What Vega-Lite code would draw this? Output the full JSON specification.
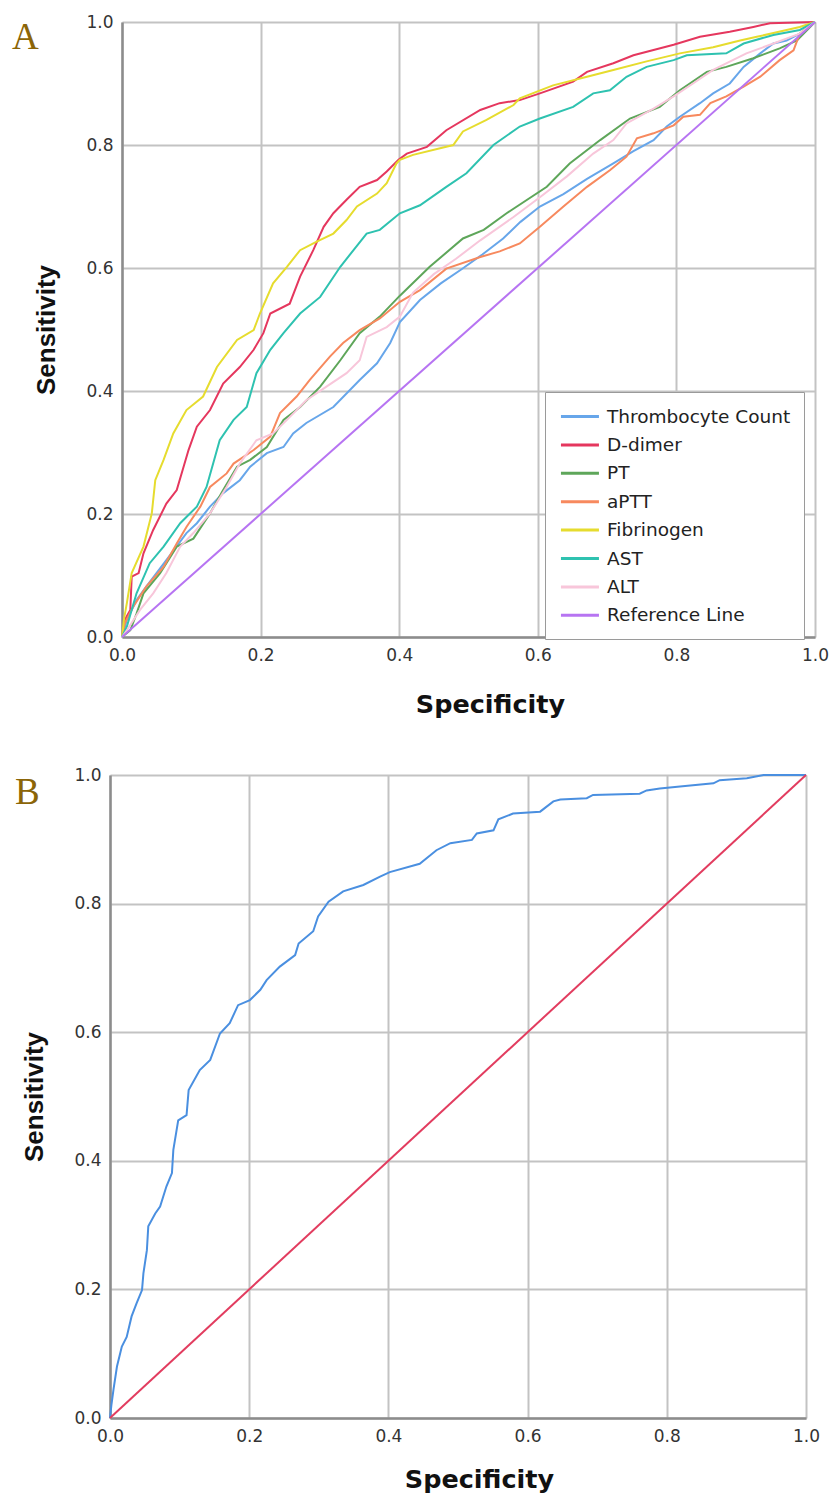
{
  "$schema": "https://vega.github.io/schema/vega-lite/v6.json",
  "background": "white",
  "padding": {"left": 12, "top": 13, "right": 0, "bottom": 0},
  "autosize": {"type": "pad"},
  "columns": 1,
  "spacing": 48,
  "resolve": {"scale": {"color": "independent", "x": "independent", "y": "independent"}},
  "config": {
    "view": {"stroke": null},
    "axis": {
      "grid": true, "gridColor": "#c3c3c3", "gridWidth": 2,
      "domainColor": "#8c8c8c", "domainWidth": 2.5,
      "ticks": false, "labelFlush": false, "labelOverlap": false,
      "labelFont": "DejaVu Sans", "labelFontSize": 17, "labelColor": "#333333",
      "titleColor": "#111111", "titleFontWeight": "bold"
    },
    "axisX": {"labelPadding": 10, "titleFont": "DejaVu Sans", "titleFontSize": 25.5, "titlePadding": 29},
    "axisY": {"labelPadding": 9, "titleFont": "Liberation Sans", "titleFontSize": 26, "titlePadding": 26},
    "legend": {
      "symbolType": "M-0.9,0H3.1", "symbolSize": 361, "symbolStrokeWidth": 3,
      "labelFont": "DejaVu Sans", "labelFontSize": 18.5, "labelColor": "#222222", "labelLimit": 400,
      "labelOffset": 26.5, "rowPadding": 7.4, "padding": 13.5,
      "strokeColor": "#9a9a9a", "fillColor": "white"
    }
  },
  "datasets": {
    "rocA": [
      {"series": "Thrombocyte Count", "spec": 0, "sens": 0},
      {"series": "Thrombocyte Count", "spec": 0.007, "sens": 0.028},
      {"series": "Thrombocyte Count", "spec": 0.021, "sens": 0.06},
      {"series": "Thrombocyte Count", "spec": 0.035, "sens": 0.082},
      {"series": "Thrombocyte Count", "spec": 0.064, "sens": 0.125},
      {"series": "Thrombocyte Count", "spec": 0.093, "sens": 0.169},
      {"series": "Thrombocyte Count", "spec": 0.108, "sens": 0.185},
      {"series": "Thrombocyte Count", "spec": 0.127, "sens": 0.212},
      {"series": "Thrombocyte Count", "spec": 0.146, "sens": 0.234},
      {"series": "Thrombocyte Count", "spec": 0.17, "sens": 0.255},
      {"series": "Thrombocyte Count", "spec": 0.185, "sens": 0.277},
      {"series": "Thrombocyte Count", "spec": 0.209, "sens": 0.299},
      {"series": "Thrombocyte Count", "spec": 0.233, "sens": 0.309},
      {"series": "Thrombocyte Count", "spec": 0.247, "sens": 0.331},
      {"series": "Thrombocyte Count", "spec": 0.266, "sens": 0.348},
      {"series": "Thrombocyte Count", "spec": 0.305, "sens": 0.374},
      {"series": "Thrombocyte Count", "spec": 0.343, "sens": 0.418},
      {"series": "Thrombocyte Count", "spec": 0.368, "sens": 0.445},
      {"series": "Thrombocyte Count", "spec": 0.387, "sens": 0.478},
      {"series": "Thrombocyte Count", "spec": 0.401, "sens": 0.512},
      {"series": "Thrombocyte Count", "spec": 0.43, "sens": 0.548},
      {"series": "Thrombocyte Count", "spec": 0.46, "sens": 0.575},
      {"series": "Thrombocyte Count", "spec": 0.49, "sens": 0.598},
      {"series": "Thrombocyte Count", "spec": 0.52, "sens": 0.622},
      {"series": "Thrombocyte Count", "spec": 0.55, "sens": 0.648},
      {"series": "Thrombocyte Count", "spec": 0.575, "sens": 0.675},
      {"series": "Thrombocyte Count", "spec": 0.603, "sens": 0.7},
      {"series": "Thrombocyte Count", "spec": 0.637, "sens": 0.72},
      {"series": "Thrombocyte Count", "spec": 0.671, "sens": 0.745},
      {"series": "Thrombocyte Count", "spec": 0.709, "sens": 0.77},
      {"series": "Thrombocyte Count", "spec": 0.738, "sens": 0.79},
      {"series": "Thrombocyte Count", "spec": 0.767, "sens": 0.808},
      {"series": "Thrombocyte Count", "spec": 0.786, "sens": 0.83},
      {"series": "Thrombocyte Count", "spec": 0.805, "sens": 0.846},
      {"series": "Thrombocyte Count", "spec": 0.834, "sens": 0.868},
      {"series": "Thrombocyte Count", "spec": 0.853, "sens": 0.884},
      {"series": "Thrombocyte Count", "spec": 0.877, "sens": 0.9},
      {"series": "Thrombocyte Count", "spec": 0.897, "sens": 0.927},
      {"series": "Thrombocyte Count", "spec": 0.921, "sens": 0.949},
      {"series": "Thrombocyte Count", "spec": 0.94, "sens": 0.965},
      {"series": "Thrombocyte Count", "spec": 0.959, "sens": 0.97},
      {"series": "Thrombocyte Count", "spec": 0.978, "sens": 0.981},
      {"series": "Thrombocyte Count", "spec": 1, "sens": 1},

      {"series": "D-dimer", "spec": 0, "sens": 0},
      {"series": "D-dimer", "spec": 0.004, "sens": 0.028},
      {"series": "D-dimer", "spec": 0.012, "sens": 0.044},
      {"series": "D-dimer", "spec": 0.014, "sens": 0.098},
      {"series": "D-dimer", "spec": 0.024, "sens": 0.104},
      {"series": "D-dimer", "spec": 0.031, "sens": 0.136},
      {"series": "D-dimer", "spec": 0.045, "sens": 0.174},
      {"series": "D-dimer", "spec": 0.064, "sens": 0.217},
      {"series": "D-dimer", "spec": 0.079, "sens": 0.239},
      {"series": "D-dimer", "spec": 0.096, "sens": 0.304},
      {"series": "D-dimer", "spec": 0.108, "sens": 0.342},
      {"series": "D-dimer", "spec": 0.127, "sens": 0.369},
      {"series": "D-dimer", "spec": 0.146, "sens": 0.412},
      {"series": "D-dimer", "spec": 0.17, "sens": 0.439},
      {"series": "D-dimer", "spec": 0.19, "sens": 0.467},
      {"series": "D-dimer", "spec": 0.204, "sens": 0.494},
      {"series": "D-dimer", "spec": 0.214, "sens": 0.526},
      {"series": "D-dimer", "spec": 0.242, "sens": 0.542},
      {"series": "D-dimer", "spec": 0.257, "sens": 0.586},
      {"series": "D-dimer", "spec": 0.276, "sens": 0.629},
      {"series": "D-dimer", "spec": 0.291, "sens": 0.667},
      {"series": "D-dimer", "spec": 0.305, "sens": 0.689},
      {"series": "D-dimer", "spec": 0.324, "sens": 0.711},
      {"series": "D-dimer", "spec": 0.343, "sens": 0.732},
      {"series": "D-dimer", "spec": 0.368, "sens": 0.743},
      {"series": "D-dimer", "spec": 0.382, "sens": 0.757},
      {"series": "D-dimer", "spec": 0.399, "sens": 0.776},
      {"series": "D-dimer", "spec": 0.411, "sens": 0.786},
      {"series": "D-dimer", "spec": 0.44, "sens": 0.797},
      {"series": "D-dimer", "spec": 0.468, "sens": 0.824},
      {"series": "D-dimer", "spec": 0.517, "sens": 0.857},
      {"series": "D-dimer", "spec": 0.545, "sens": 0.868},
      {"series": "D-dimer", "spec": 0.574, "sens": 0.873},
      {"series": "D-dimer", "spec": 0.603, "sens": 0.884},
      {"series": "D-dimer", "spec": 0.651, "sens": 0.903},
      {"series": "D-dimer", "spec": 0.671, "sens": 0.919},
      {"series": "D-dimer", "spec": 0.709, "sens": 0.933},
      {"series": "D-dimer", "spec": 0.738, "sens": 0.946},
      {"series": "D-dimer", "spec": 0.796, "sens": 0.963},
      {"series": "D-dimer", "spec": 0.834, "sens": 0.976},
      {"series": "D-dimer", "spec": 0.877, "sens": 0.984},
      {"series": "D-dimer", "spec": 0.911, "sens": 0.992},
      {"series": "D-dimer", "spec": 0.935, "sens": 0.998},
      {"series": "D-dimer", "spec": 1, "sens": 1},

      {"series": "PT", "spec": 0, "sens": 0},
      {"series": "PT", "spec": 0.012, "sens": 0.011},
      {"series": "PT", "spec": 0.021, "sens": 0.038},
      {"series": "PT", "spec": 0.031, "sens": 0.071},
      {"series": "PT", "spec": 0.055, "sens": 0.104},
      {"series": "PT", "spec": 0.079, "sens": 0.147},
      {"series": "PT", "spec": 0.103, "sens": 0.16},
      {"series": "PT", "spec": 0.127, "sens": 0.201},
      {"series": "PT", "spec": 0.146, "sens": 0.239},
      {"series": "PT", "spec": 0.166, "sens": 0.277},
      {"series": "PT", "spec": 0.185, "sens": 0.288},
      {"series": "PT", "spec": 0.209, "sens": 0.309},
      {"series": "PT", "spec": 0.233, "sens": 0.353},
      {"series": "PT", "spec": 0.257, "sens": 0.374},
      {"series": "PT", "spec": 0.286, "sens": 0.407},
      {"series": "PT", "spec": 0.315, "sens": 0.45},
      {"series": "PT", "spec": 0.343, "sens": 0.494},
      {"series": "PT", "spec": 0.372, "sens": 0.521},
      {"series": "PT", "spec": 0.401, "sens": 0.555},
      {"series": "PT", "spec": 0.444, "sens": 0.602},
      {"series": "PT", "spec": 0.492, "sens": 0.648},
      {"series": "PT", "spec": 0.522, "sens": 0.662},
      {"series": "PT", "spec": 0.555, "sens": 0.689},
      {"series": "PT", "spec": 0.613, "sens": 0.732},
      {"series": "PT", "spec": 0.646, "sens": 0.77},
      {"series": "PT", "spec": 0.69, "sens": 0.808},
      {"series": "PT", "spec": 0.733, "sens": 0.843},
      {"series": "PT", "spec": 0.776, "sens": 0.862},
      {"series": "PT", "spec": 0.805, "sens": 0.889},
      {"series": "PT", "spec": 0.844, "sens": 0.919},
      {"series": "PT", "spec": 0.872, "sens": 0.927},
      {"series": "PT", "spec": 0.911, "sens": 0.941},
      {"series": "PT", "spec": 0.949, "sens": 0.957},
      {"series": "PT", "spec": 0.974, "sens": 0.97},
      {"series": "PT", "spec": 1, "sens": 1},

      {"series": "aPTT", "spec": 0, "sens": 0},
      {"series": "aPTT", "spec": 0.004, "sens": 0.022},
      {"series": "aPTT", "spec": 0.016, "sens": 0.049},
      {"series": "aPTT", "spec": 0.035, "sens": 0.082},
      {"series": "aPTT", "spec": 0.06, "sens": 0.114},
      {"series": "aPTT", "spec": 0.079, "sens": 0.152},
      {"series": "aPTT", "spec": 0.093, "sens": 0.179},
      {"series": "aPTT", "spec": 0.113, "sens": 0.212},
      {"series": "aPTT", "spec": 0.127, "sens": 0.244},
      {"series": "aPTT", "spec": 0.151, "sens": 0.266},
      {"series": "aPTT", "spec": 0.161, "sens": 0.282},
      {"series": "aPTT", "spec": 0.19, "sens": 0.304},
      {"series": "aPTT", "spec": 0.214, "sens": 0.326},
      {"series": "aPTT", "spec": 0.228, "sens": 0.364},
      {"series": "aPTT", "spec": 0.252, "sens": 0.391},
      {"series": "aPTT", "spec": 0.271, "sens": 0.418},
      {"series": "aPTT", "spec": 0.3, "sens": 0.456},
      {"series": "aPTT", "spec": 0.319, "sens": 0.478},
      {"series": "aPTT", "spec": 0.343, "sens": 0.499},
      {"series": "aPTT", "spec": 0.372, "sens": 0.518},
      {"series": "aPTT", "spec": 0.401, "sens": 0.545},
      {"series": "aPTT", "spec": 0.43, "sens": 0.564},
      {"series": "aPTT", "spec": 0.468, "sens": 0.599},
      {"series": "aPTT", "spec": 0.517, "sens": 0.618},
      {"series": "aPTT", "spec": 0.545, "sens": 0.627},
      {"series": "aPTT", "spec": 0.574, "sens": 0.64},
      {"series": "aPTT", "spec": 0.603, "sens": 0.667},
      {"series": "aPTT", "spec": 0.637, "sens": 0.7},
      {"series": "aPTT", "spec": 0.671, "sens": 0.732},
      {"series": "aPTT", "spec": 0.704, "sens": 0.759},
      {"series": "aPTT", "spec": 0.728, "sens": 0.781},
      {"series": "aPTT", "spec": 0.743, "sens": 0.811},
      {"series": "aPTT", "spec": 0.767, "sens": 0.819},
      {"series": "aPTT", "spec": 0.796, "sens": 0.832},
      {"series": "aPTT", "spec": 0.81, "sens": 0.846},
      {"series": "aPTT", "spec": 0.834, "sens": 0.849},
      {"series": "aPTT", "spec": 0.849, "sens": 0.868},
      {"series": "aPTT", "spec": 0.872, "sens": 0.879},
      {"series": "aPTT", "spec": 0.897, "sens": 0.895},
      {"series": "aPTT", "spec": 0.921, "sens": 0.911},
      {"series": "aPTT", "spec": 0.949, "sens": 0.938},
      {"series": "aPTT", "spec": 0.969, "sens": 0.954},
      {"series": "aPTT", "spec": 0.978, "sens": 0.981},
      {"series": "aPTT", "spec": 1, "sens": 1},

      {"series": "Fibrinogen", "spec": 0, "sens": 0},
      {"series": "Fibrinogen", "spec": 0.003, "sens": 0.03},
      {"series": "Fibrinogen", "spec": 0.007, "sens": 0.055},
      {"series": "Fibrinogen", "spec": 0.014, "sens": 0.104},
      {"series": "Fibrinogen", "spec": 0.031, "sens": 0.147},
      {"series": "Fibrinogen", "spec": 0.043, "sens": 0.201},
      {"series": "Fibrinogen", "spec": 0.048, "sens": 0.255},
      {"series": "Fibrinogen", "spec": 0.06, "sens": 0.288},
      {"series": "Fibrinogen", "spec": 0.074, "sens": 0.331},
      {"series": "Fibrinogen", "spec": 0.093, "sens": 0.369},
      {"series": "Fibrinogen", "spec": 0.117, "sens": 0.391},
      {"series": "Fibrinogen", "spec": 0.137, "sens": 0.439},
      {"series": "Fibrinogen", "spec": 0.166, "sens": 0.483},
      {"series": "Fibrinogen", "spec": 0.19, "sens": 0.499},
      {"series": "Fibrinogen", "spec": 0.199, "sens": 0.526},
      {"series": "Fibrinogen", "spec": 0.218, "sens": 0.575},
      {"series": "Fibrinogen", "spec": 0.238, "sens": 0.602},
      {"series": "Fibrinogen", "spec": 0.257, "sens": 0.629},
      {"series": "Fibrinogen", "spec": 0.281, "sens": 0.643},
      {"series": "Fibrinogen", "spec": 0.305, "sens": 0.656},
      {"series": "Fibrinogen", "spec": 0.324, "sens": 0.678},
      {"series": "Fibrinogen", "spec": 0.339, "sens": 0.7},
      {"series": "Fibrinogen", "spec": 0.368, "sens": 0.721},
      {"series": "Fibrinogen", "spec": 0.382, "sens": 0.738},
      {"series": "Fibrinogen", "spec": 0.396, "sens": 0.77},
      {"series": "Fibrinogen", "spec": 0.401, "sens": 0.776},
      {"series": "Fibrinogen", "spec": 0.42, "sens": 0.784},
      {"series": "Fibrinogen", "spec": 0.478, "sens": 0.8},
      {"series": "Fibrinogen", "spec": 0.492, "sens": 0.822},
      {"series": "Fibrinogen", "spec": 0.526, "sens": 0.841},
      {"series": "Fibrinogen", "spec": 0.565, "sens": 0.865},
      {"series": "Fibrinogen", "spec": 0.574, "sens": 0.876},
      {"series": "Fibrinogen", "spec": 0.622, "sens": 0.897},
      {"series": "Fibrinogen", "spec": 0.671, "sens": 0.911},
      {"series": "Fibrinogen", "spec": 0.709, "sens": 0.922},
      {"series": "Fibrinogen", "spec": 0.757, "sens": 0.936},
      {"series": "Fibrinogen", "spec": 0.805, "sens": 0.949},
      {"series": "Fibrinogen", "spec": 0.853, "sens": 0.959},
      {"series": "Fibrinogen", "spec": 0.892, "sens": 0.97},
      {"series": "Fibrinogen", "spec": 0.916, "sens": 0.976},
      {"series": "Fibrinogen", "spec": 0.94, "sens": 0.982},
      {"series": "Fibrinogen", "spec": 0.978, "sens": 0.992},
      {"series": "Fibrinogen", "spec": 1, "sens": 1},

      {"series": "AST", "spec": 0, "sens": 0},
      {"series": "AST", "spec": 0.007, "sens": 0.017},
      {"series": "AST", "spec": 0.021, "sens": 0.071},
      {"series": "AST", "spec": 0.04, "sens": 0.12},
      {"series": "AST", "spec": 0.06, "sens": 0.147},
      {"series": "AST", "spec": 0.084, "sens": 0.185},
      {"series": "AST", "spec": 0.108, "sens": 0.212},
      {"series": "AST", "spec": 0.122, "sens": 0.244},
      {"series": "AST", "spec": 0.141, "sens": 0.32},
      {"series": "AST", "spec": 0.161, "sens": 0.353},
      {"series": "AST", "spec": 0.18, "sens": 0.374},
      {"series": "AST", "spec": 0.194, "sens": 0.429},
      {"series": "AST", "spec": 0.214, "sens": 0.467},
      {"series": "AST", "spec": 0.233, "sens": 0.494},
      {"series": "AST", "spec": 0.257, "sens": 0.526},
      {"series": "AST", "spec": 0.286, "sens": 0.553},
      {"series": "AST", "spec": 0.315, "sens": 0.602},
      {"series": "AST", "spec": 0.353, "sens": 0.656},
      {"series": "AST", "spec": 0.372, "sens": 0.662},
      {"series": "AST", "spec": 0.401, "sens": 0.689},
      {"series": "AST", "spec": 0.43, "sens": 0.702},
      {"series": "AST", "spec": 0.468, "sens": 0.732},
      {"series": "AST", "spec": 0.497, "sens": 0.754},
      {"series": "AST", "spec": 0.536, "sens": 0.8},
      {"series": "AST", "spec": 0.574, "sens": 0.83},
      {"series": "AST", "spec": 0.603, "sens": 0.843},
      {"series": "AST", "spec": 0.651, "sens": 0.862},
      {"series": "AST", "spec": 0.68, "sens": 0.884},
      {"series": "AST", "spec": 0.704, "sens": 0.889},
      {"series": "AST", "spec": 0.728, "sens": 0.911},
      {"series": "AST", "spec": 0.757, "sens": 0.927},
      {"series": "AST", "spec": 0.796, "sens": 0.938},
      {"series": "AST", "spec": 0.815, "sens": 0.946},
      {"series": "AST", "spec": 0.872, "sens": 0.949},
      {"series": "AST", "spec": 0.897, "sens": 0.965},
      {"series": "AST", "spec": 0.94, "sens": 0.979},
      {"series": "AST", "spec": 0.978, "sens": 0.987},
      {"series": "AST", "spec": 1, "sens": 1},

      {"series": "ALT", "spec": 0, "sens": 0},
      {"series": "ALT", "spec": 0.007, "sens": 0.011},
      {"series": "ALT", "spec": 0.026, "sens": 0.044},
      {"series": "ALT", "spec": 0.045, "sens": 0.071},
      {"series": "ALT", "spec": 0.064, "sens": 0.104},
      {"series": "ALT", "spec": 0.084, "sens": 0.147},
      {"series": "ALT", "spec": 0.103, "sens": 0.169},
      {"series": "ALT", "spec": 0.127, "sens": 0.201},
      {"series": "ALT", "spec": 0.151, "sens": 0.244},
      {"series": "ALT", "spec": 0.17, "sens": 0.282},
      {"series": "ALT", "spec": 0.194, "sens": 0.32},
      {"series": "ALT", "spec": 0.218, "sens": 0.331},
      {"series": "ALT", "spec": 0.238, "sens": 0.353},
      {"series": "ALT", "spec": 0.266, "sens": 0.385},
      {"series": "ALT", "spec": 0.295, "sens": 0.407},
      {"series": "ALT", "spec": 0.324, "sens": 0.429},
      {"series": "ALT", "spec": 0.343, "sens": 0.45},
      {"series": "ALT", "spec": 0.353, "sens": 0.488},
      {"series": "ALT", "spec": 0.382, "sens": 0.504},
      {"series": "ALT", "spec": 0.401, "sens": 0.521},
      {"series": "ALT", "spec": 0.42, "sens": 0.56},
      {"series": "ALT", "spec": 0.45, "sens": 0.59},
      {"series": "ALT", "spec": 0.482, "sens": 0.615},
      {"series": "ALT", "spec": 0.517, "sens": 0.645},
      {"series": "ALT", "spec": 0.565, "sens": 0.683},
      {"series": "ALT", "spec": 0.603, "sens": 0.715},
      {"series": "ALT", "spec": 0.642, "sens": 0.749},
      {"series": "ALT", "spec": 0.68, "sens": 0.786},
      {"series": "ALT", "spec": 0.709, "sens": 0.808},
      {"series": "ALT", "spec": 0.728, "sens": 0.835},
      {"series": "ALT", "spec": 0.767, "sens": 0.859},
      {"series": "ALT", "spec": 0.796, "sens": 0.879},
      {"series": "ALT", "spec": 0.824, "sens": 0.9},
      {"series": "ALT", "spec": 0.853, "sens": 0.922},
      {"series": "ALT", "spec": 0.901, "sens": 0.949},
      {"series": "ALT", "spec": 0.94, "sens": 0.965},
      {"series": "ALT", "spec": 0.978, "sens": 0.981},
      {"series": "ALT", "spec": 1, "sens": 1},

      {"series": "Reference Line", "spec": 0, "sens": 0},
      {"series": "Reference Line", "spec": 1, "sens": 1}
    ],
    "rocB": [
      {"series": "ROC", "spec": 0, "sens": 0},
      {"series": "ROC", "spec": 0.002, "sens": 0.02},
      {"series": "ROC", "spec": 0.005, "sens": 0.044},
      {"series": "ROC", "spec": 0.01, "sens": 0.08},
      {"series": "ROC", "spec": 0.017, "sens": 0.111},
      {"series": "ROC", "spec": 0.024, "sens": 0.126},
      {"series": "ROC", "spec": 0.031, "sens": 0.158},
      {"series": "ROC", "spec": 0.038, "sens": 0.178},
      {"series": "ROC", "spec": 0.046, "sens": 0.199},
      {"series": "ROC", "spec": 0.048, "sens": 0.225},
      {"series": "ROC", "spec": 0.053, "sens": 0.261},
      {"series": "ROC", "spec": 0.055, "sens": 0.298},
      {"series": "ROC", "spec": 0.065, "sens": 0.318},
      {"series": "ROC", "spec": 0.072, "sens": 0.329},
      {"series": "ROC", "spec": 0.081, "sens": 0.36},
      {"series": "ROC", "spec": 0.089, "sens": 0.381},
      {"series": "ROC", "spec": 0.091, "sens": 0.417},
      {"series": "ROC", "spec": 0.098, "sens": 0.463},
      {"series": "ROC", "spec": 0.11, "sens": 0.471},
      {"series": "ROC", "spec": 0.113, "sens": 0.51},
      {"series": "ROC", "spec": 0.129, "sens": 0.541},
      {"series": "ROC", "spec": 0.144, "sens": 0.557},
      {"series": "ROC", "spec": 0.158, "sens": 0.598},
      {"series": "ROC", "spec": 0.172, "sens": 0.614},
      {"series": "ROC", "spec": 0.184, "sens": 0.642},
      {"series": "ROC", "spec": 0.201, "sens": 0.65},
      {"series": "ROC", "spec": 0.216, "sens": 0.666},
      {"series": "ROC", "spec": 0.225, "sens": 0.681},
      {"series": "ROC", "spec": 0.244, "sens": 0.702},
      {"series": "ROC", "spec": 0.266, "sens": 0.72},
      {"series": "ROC", "spec": 0.271, "sens": 0.738},
      {"series": "ROC", "spec": 0.292, "sens": 0.757},
      {"series": "ROC", "spec": 0.299, "sens": 0.78},
      {"series": "ROC", "spec": 0.314, "sens": 0.803},
      {"series": "ROC", "spec": 0.335, "sens": 0.819},
      {"series": "ROC", "spec": 0.364, "sens": 0.829},
      {"series": "ROC", "spec": 0.388, "sens": 0.842},
      {"series": "ROC", "spec": 0.402, "sens": 0.849},
      {"series": "ROC", "spec": 0.445, "sens": 0.862},
      {"series": "ROC", "spec": 0.469, "sens": 0.883},
      {"series": "ROC", "spec": 0.489, "sens": 0.894},
      {"series": "ROC", "spec": 0.52, "sens": 0.899},
      {"series": "ROC", "spec": 0.527, "sens": 0.909},
      {"series": "ROC", "spec": 0.551, "sens": 0.914},
      {"series": "ROC", "spec": 0.558, "sens": 0.931},
      {"series": "ROC", "spec": 0.579, "sens": 0.94},
      {"series": "ROC", "spec": 0.618, "sens": 0.943},
      {"series": "ROC", "spec": 0.637, "sens": 0.959},
      {"series": "ROC", "spec": 0.647, "sens": 0.962},
      {"series": "ROC", "spec": 0.685, "sens": 0.964},
      {"series": "ROC", "spec": 0.694, "sens": 0.969},
      {"series": "ROC", "spec": 0.761, "sens": 0.971},
      {"series": "ROC", "spec": 0.771, "sens": 0.976},
      {"series": "ROC", "spec": 0.79, "sens": 0.979},
      {"series": "ROC", "spec": 0.819, "sens": 0.982},
      {"series": "ROC", "spec": 0.867, "sens": 0.987},
      {"series": "ROC", "spec": 0.876, "sens": 0.992},
      {"series": "ROC", "spec": 0.915, "sens": 0.995},
      {"series": "ROC", "spec": 0.939, "sens": 1},
      {"series": "ROC", "spec": 1, "sens": 1},
      {"series": "Reference", "spec": 0, "sens": 0},
      {"series": "Reference", "spec": 1, "sens": 1}
    ]
  },
  "concat": [
    {
      "width": 693,
      "height": 615,
      "title": {"text": "A", "anchor": "start", "frame": "group", "font": "Liberation Serif", "fontSize": 37, "fontWeight": "normal", "color": "#8B6508", "dx": -110, "dy": 44, "offset": 0},
      "data": {"name": "rocA"},
      "mark": {"type": "line", "strokeWidth": 2},
      "encoding": {
        "x": {"field": "spec", "type": "quantitative", "scale": {"domain": [0, 1]}, "axis": {"title": "Specificity", "values": [0, 0.2, 0.4, 0.6, 0.8, 1], "format": ".1f", "titleX": 368}},
        "y": {"field": "sens", "type": "quantitative", "scale": {"domain": [0, 1]}, "axis": {"title": "Sensitivity", "values": [0, 0.2, 0.4, 0.6, 0.8, 1], "format": ".1f"}},
        "color": {
          "field": "series", "type": "nominal",
          "scale": {
            "domain": ["Thrombocyte Count", "D-dimer", "PT", "aPTT", "Fibrinogen", "AST", "ALT", "Reference Line"],
            "range": ["#67a6ea", "#e5375e", "#5ea65a", "#f7895e", "#e6dc2e", "#2ec2b0", "#f8c6da", "#b774f2"]
          },
          "legend": {"title": null, "orient": "none", "legendX": 423, "legendY": 370}
        }
      }
    },
    {
      "width": 696,
      "height": 643,
      "title": {"text": "B", "anchor": "start", "frame": "group", "font": "Liberation Serif", "fontSize": 37, "fontWeight": "normal", "color": "#8B6508", "dx": -107, "dy": 46, "offset": 0},
      "data": {"name": "rocB"},
      "mark": {"type": "line", "strokeWidth": 2},
      "encoding": {
        "x": {"field": "spec", "type": "quantitative", "scale": {"domain": [0, 1], "range": [-12, 684]}, "axis": {"title": "Specificity", "values": [0, 0.2, 0.4, 0.6, 0.8, 1], "format": ".1f", "titleX": 357, "titlePadding": 23}},
        "y": {"field": "sens", "type": "quantitative", "scale": {"domain": [0, 1]}, "axis": {"title": "Sensitivity", "values": [0, 0.2, 0.4, 0.6, 0.8, 1], "format": ".1f", "offset": 12}},
        "color": {
          "field": "series", "type": "nominal",
          "scale": {"domain": ["ROC", "Reference"], "range": ["#4a8fe0", "#e23c5f"]},
          "legend": null
        }
      }
    }
  ]
}
